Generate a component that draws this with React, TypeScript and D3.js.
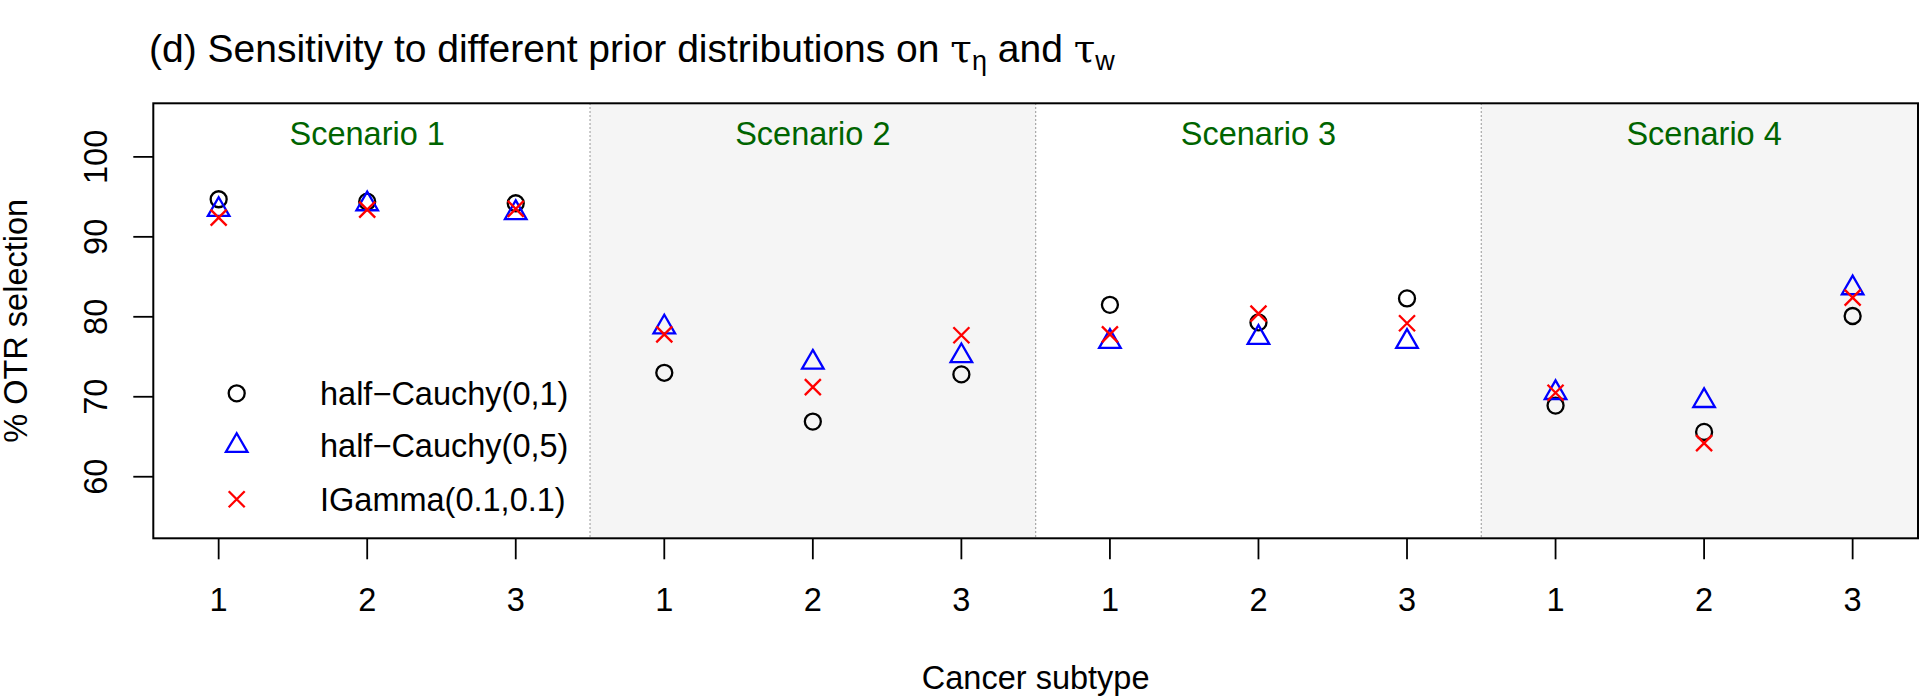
import React from "react";
import * as d3 from "d3";

const subtypes = ["1", "2", "3", "1", "2", "3", "1", "2", "3", "1", "2", "3"];
const scenarios = ["Scenario 1", "Scenario 2", "Scenario 3", "Scenario 4"];
const yTicks = [60, 70, 80, 90, 100];
const halfCauchy01 = [94.7, 94.4, 94.2, 73.0, 66.9, 72.8, 81.5, 79.3, 82.3, 68.9, 65.6, 80.1];
const halfCauchy05 = [93.4, 94.1, 93.0, 78.7, 74.3, 75.1, 76.9, 77.4, 76.9, 70.5, 69.5, 83.6];
const iGamma = [92.4, 93.4, 93.5, 77.8, 71.2, 77.7, 77.8, 80.4, 79.2, 70.5, 64.2, 82.4];
const legendLabels = ["half\u2212Cauchy(0,1)", "half\u2212Cauchy(0,5)", "IGamma(0.1,0.1)"];

const FONT = "'Liberation Sans', Arial, Helvetica, sans-serif";
const W = 1920;
const H = 699;
const L = 153.3, R = 1918, T = 103.3, B = 538.3;

export default function App() {
  const x = d3.scaleLinear().domain([0.56, 12.44]).range([L, R]);
  const y = d3.scaleLinear().domain([52.3, 106.7]).range([B, T]);
  const r = 8;
  const sw = 2.3;

  const circle = (cx: number, cy: number, key: string) => (
    <circle key={key} cx={cx} cy={cy} r={r} fill="none" stroke="#000" strokeWidth={sw} />
  );
  const triangle = (cx: number, cy: number, key: string) => {
    const p = d3.path();
    p.moveTo(cx, cy - 1.555 * r);
    p.lineTo(cx + 1.347 * r, cy + 0.777 * r);
    p.lineTo(cx - 1.347 * r, cy + 0.777 * r);
    p.closePath();
    return <path key={key} d={p.toString()} fill="none" stroke="#0000ff" strokeWidth={sw} strokeLinejoin="miter" />;
  };
  const cross = (cx: number, cy: number, key: string) => {
    const p = d3.path();
    p.moveTo(cx - r, cy - r);
    p.lineTo(cx + r, cy + r);
    p.moveTo(cx - r, cy + r);
    p.lineTo(cx + r, cy - r);
    return <path key={key} d={p.toString()} fill="none" stroke="#ff0000" strokeWidth={sw} />;
  };

  const idx = subtypes.map((_, i) => i + 1);
  const dividers = [3.5, 6.5, 9.5];
  const shaded = [
    [3.5, 6.5],
    [9.5, 12.44],
  ];

  const legendY = [393.3, 445.7, 499.3];
  const legendMarkers = [circle, triangle, cross];

  return (
    <svg
      width={W}
      height={H}
      style={{ position: "absolute", left: 0, top: 0, display: "block", background: "#fff" }}
      fontFamily={FONT}
    >
      <rect x={0} y={0} width={W} height={H} fill="#fff" />
      {shaded.map(([a, b], i) => (
        <rect key={"sh" + i} x={x(a)} y={T} width={x(b) - x(a)} height={B - T} fill="#f5f5f5" />
      ))}
      {dividers.map((d, i) => (
        <line key={"dv" + i} x1={x(d)} x2={x(d)} y1={T} y2={B} stroke="#8c8c8c" strokeWidth={1.2} strokeDasharray="1.5,2.5" />
      ))}
      {scenarios.map((s, i) => (
        <text key={s} x={x(i * 3 + 2)} y={145} textAnchor="middle" fontSize={32.5} fill="#006400">
          {s}
        </text>
      ))}
      {idx.map((i, k) => circle(x(i), y(halfCauchy01[k]), "c" + k))}
      {idx.map((i, k) => triangle(x(i), y(halfCauchy05[k]), "t" + k))}
      {idx.map((i, k) => cross(x(i), y(iGamma[k]), "x" + k))}
      {legendLabels.map((lab, i) => (
        <g key={"lg" + i}>
          {legendMarkers[i](236.7, legendY[i], "lm" + i)}
          <text x={320} y={legendY[i] + 11.7} fontSize={32.5} fill="#000">
            {lab}
          </text>
        </g>
      ))}
      <rect x={L} y={T} width={R - L} height={B - T} fill="none" stroke="#000" strokeWidth={2} />
      {idx.map((i, k) => (
        <g key={"xt" + k}>
          <line x1={x(i)} x2={x(i)} y1={B} y2={B + 21} stroke="#000" strokeWidth={1.8} />
          <text x={x(i)} y={610.7} textAnchor="middle" fontSize={32.5} fill="#000">
            {subtypes[k]}
          </text>
        </g>
      ))}
      {yTicks.map((t) => (
        <g key={"yt" + t}>
          <line x1={L - 20} x2={L} y1={y(t)} y2={y(t)} stroke="#000" strokeWidth={1.8} />
          <text
            transform={`translate(${107},${y(t)}) rotate(-90)`}
            textAnchor="middle"
            fontSize={32.5}
            fill="#000"
          >
            {t}
          </text>
        </g>
      ))}
      <text
        transform={`translate(27,${(T + B) / 2}) rotate(-90)`}
        textAnchor="middle"
        fontSize={32.5}
        fill="#000"
      >
        % OTR selection
      </text>
      <text x={(L + R) / 2} y={689} textAnchor="middle" fontSize={32.5} fill="#000">
        Cancer subtype
      </text>
      <text x={149} y={62} fontSize={39} fill="#000">
        (d) Sensitivity to different prior distributions on{" "}
        <tspan fontFamily="'DejaVu Serif', 'Liberation Serif', serif">τ</tspan>
        <tspan fontSize={27} dy={8}>η</tspan>
        <tspan dy={-8}> and </tspan>
        <tspan fontFamily="'DejaVu Serif', 'Liberation Serif', serif">τ</tspan>
        <tspan fontSize={27} dy={8}>w</tspan>
      </text>
    </svg>
  );
}
